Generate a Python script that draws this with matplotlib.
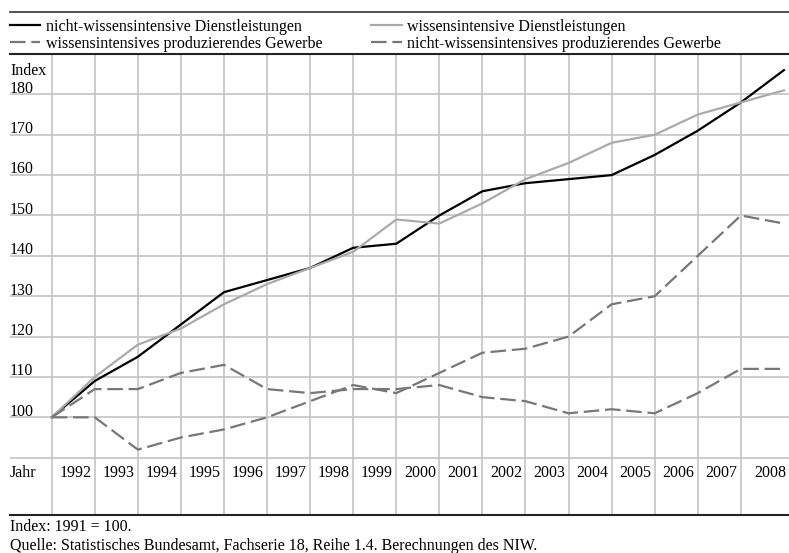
import matplotlib
matplotlib.use("Agg")
import matplotlib.pyplot as plt

plt.rcParams['font.family'] = ['Liberation Serif', 'DejaVu Serif']
plt.rcParams['font.size'] = 11.5

# Index values, 1991 = 100
years = list(range(1991, 2009))
nw_dienst = [100, 109, 115, 123, 131, 134, 137, 142, 143, 150, 156, 158, 159, 160, 165, 171, 178, 186]
w_dienst = [100, 110, 118, 122, 128, 133, 137, 141, 149, 148, 153, 159, 163, 168, 170, 175, 178, 181]
w_gewerbe = [100, 100, 92, 95, 97, 100, 104, 108, 106, 111, 116, 117, 120, 128, 130, 140, 150, 148]
nw_gewerbe = [100, 107, 107, 111, 113, 107, 106, 107, 107, 108, 105, 104, 101, 102, 101, 106, 112, 112]
y_ticks = [100, 110, 120, 130, 140, 150, 160, 170, 180]

W, H = 789, 553
fig = plt.figure(figsize=(W / 100, H / 100), dpi=100)
ax = fig.add_axes([10 / W, 1 - 515 / H, 779 / W, (515 - 54) / H])

# pixel layout of the grid: one year = 43.07 px, 10 index points = 40.37 px
step = 43.07
x0 = 1991 - (51.7 - 10) / step
x1 = 1991 + (789 - 51.7) / step
ax.set_xlim(x0, x1)
ax.set_ylim(90 - (515 - 457.7) / 4.037, 190)

grid_c = "#c4c4c4"
ax.set_xticks(years[:-1])
ax.set_yticks([90] + y_ticks)
ax.grid(True, color=grid_c, lw=1.2)
ax.tick_params(length=0, labelbottom=False, labelleft=False)
for s in ["left", "right"]:
    ax.spines[s].set_visible(False)
for s in ["top", "bottom"]:
    ax.spines[s].set_color("#222222")
    ax.spines[s].set_linewidth(1.5)

dash = (0, (7, 2.6))
ax.plot(years, nw_dienst, color="black", lw=1.6, label="nicht-wissensintensive Dienstleistungen")
ax.plot(years, w_gewerbe, color="#777777", lw=1.6, ls=dash, label="wissensintensives produzierendes Gewerbe")
ax.plot(years, w_dienst, color="#aaaaaa", lw=1.6, label="wissensintensive Dienstleistungen")
ax.plot(years, nw_gewerbe, color="#777777", lw=1.6, ls=dash, label="nicht-wissensintensives produzierendes Gewerbe")

# y labels sit just above their grid lines
for v in y_ticks:
    ax.text(x0, v + 0.4, str(v), ha="left", va="baseline")
ax.text(x0, 184.8, "Index", ha="left", va="baseline")

# year labels in the column ending at each year's line
label_y = 86.2
ax.text(x0, label_y, "Jahr", ha="left", va="center")
for yr in years[1:]:
    off = 0.32 if yr == 2008 else 0.45
    ax.text(yr - off, label_y, str(yr), ha="center", va="center")

ax.legend(loc="upper left", bbox_to_anchor=(10 / W, 1 - 19 / H), bbox_transform=fig.transFigure,
          ncol=2, frameon=False, borderpad=0, borderaxespad=0, handlelength=1.9,
          handletextpad=0.35, columnspacing=3.05, labelspacing=0.05)

fig.add_artist(plt.Line2D([10 / W, 1], [1 - 12 / H, 1 - 12 / H], color="#333333", lw=1.2))

fig.text(10 / W, 1 - 527 / H, "Index: 1991 = 100.", ha="left", va="center")
fig.text(10 / W, 1 - 545.5 / H, "Quelle: Statistisches Bundesamt, Fachserie 18, Reihe 1.4. Berechnungen des NIW.",
         ha="left", va="center")

fig.savefig("out.png", dpi=100)
